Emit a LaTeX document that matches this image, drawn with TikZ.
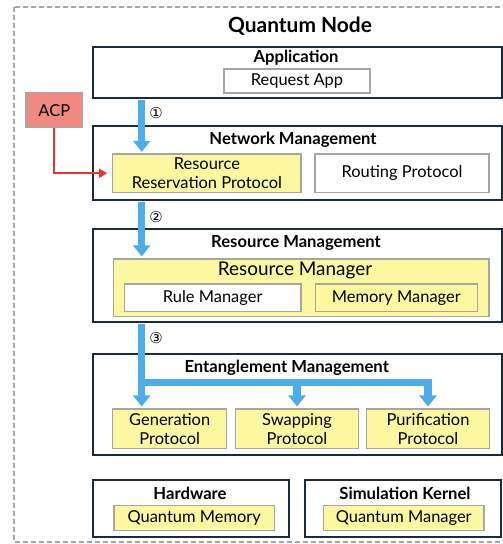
\documentclass[tikz,border=0pt]{standalone}
\usepackage{fontspec}
\setmainfont{Lato}
\newfontfamily\circfont{DejaVu Sans}
\usetikzlibrary{arrows.meta}
\definecolor{layerline}{HTML}{1C2B39}
\definecolor{modline}{HTML}{A6A6A6}
\definecolor{modyellow}{HTML}{FBF8A0}
\definecolor{acpred}{HTML}{F08A80}
\definecolor{flowblue}{HTML}{4DADE8}
\definecolor{acparrow}{HTML}{E8352A}
\tikzset{
  layer/.style={draw=layerline, line width=2bp, fill=white, inner sep=0pt},
  module/.style={draw=modline, line width=1.2bp, fill=white, inner sep=0pt, align=center,
    font=\fontsize{16.5}{19}\selectfont},
  yellowmod/.style={module, fill=modyellow},
  layertitle/.style={font=\bfseries\fontsize{16.7}{19}\selectfont},
  flow/.style={draw=flowblue, line width=7.5bp, -{Triangle[width=17bp,length=11bp]}},
  stepnum/.style={font=\circfont\fontsize{15}{15}\selectfont}
}
\begin{document}
\begin{tikzpicture}[x=1bp,y=-1bp]
  \useasboundingbox (0,0) rectangle (503,544);
  \draw[modline, line width=2bp, dash pattern=on 5bp off 3bp] (14,6.7) rectangle (530,541.7);
  \node[font=\bfseries\fontsize{21}{24}\selectfont] (qnode) at (300,26) {Quantum Node};

  % layers
  \node[layer, minimum width=409bp, minimum height=51bp] (app) at (297.2,72.2) {};
  \node[layer, minimum width=409bp, minimum height=74bp] (netmgmt) at (297.2,163) {};
  \node[layer, minimum width=409bp, minimum height=92.7bp] (resmgmt) at (297.2,275.3) {};
  \node[layer, minimum width=409bp, minimum height=101bp] (entmgmt) at (297.2,404.5) {};
  \node[layer, minimum width=196.3bp, minimum height=56.7bp] (hardware) at (190.8,508.3) {};
  \node[layer, minimum width=196bp, minimum height=56.7bp] (simkernel) at (403,508.3) {};

  \node[layertitle] (apptitle) at (296,58) {Application};
  \node[layertitle] (nettitle) at (293,140) {Network Management};
  \node[layertitle] (restitle) at (296,242.7) {Resource Management};
  \node[layertitle] (enttitle) at (286.7,367.7) {Entanglement Management};
  \node[layertitle] (hwtitle) at (190,493.3) {Hardware};
  \node[layertitle] (simtitle) at (405,493.3) {Simulation Kernel};

  % modules
  \node[module, minimum width=146bp, minimum height=24bp] (reqapp) at (297,81) {Request App};
  \node[module, fill=acpred, minimum width=56.7bp, minimum height=35bp] (acp) at (54.3,110.2) {ACP};
  \node[yellowmod, minimum width=188.3bp, minimum height=38.7bp] (rrp) at (206.9,173.3) {Resource\\Reservation Protocol};
  \node[module, minimum width=174bp, minimum height=38.7bp] (routing) at (402,173.3) {Routing Protocol};
  \node[yellowmod, minimum width=375.7bp, minimum height=57.7bp] (resmgr) at (301.2,287.8) {};
  \node[font=\fontsize{19}{22}\selectfont] (resmgrtitle) at (295,270) {Resource Manager};
  \node[module, minimum width=176.7bp, minimum height=27.7bp] (rulemgr) at (212.7,297.8) {Rule Manager};
  \node[yellowmod, minimum width=162bp, minimum height=27.7bp] (memmgr) at (396.3,297.8) {Memory Manager};
  \node[yellowmod, minimum width=114bp, minimum height=39.3bp] (gen) at (169.7,428.7) {Generation\\Protocol};
  \node[yellowmod, minimum width=122.6bp, minimum height=39.3bp] (swap) at (297,428.7) {Swapping\\Protocol};
  \node[yellowmod, minimum width=122.6bp, minimum height=39.3bp] (purif) at (428,428.7) {Purification\\Protocol};
  \node[yellowmod, minimum width=160.3bp, minimum height=25bp] (qmem) at (194.2,518.2) {Quantum Memory};
  \node[yellowmod, minimum width=160.7bp, minimum height=25bp] (qmgr) at (403.7,518.2) {Quantum Manager};

  % flows
  \coordinate (trunk) at (141.7,0);
  \coordinate (split) at (141.7,382.5);
  \draw[flow, shorten <=1bp, shorten >=1.5bp] (app.south -| trunk) -- (rrp.north -| trunk);
  \draw[flow, shorten <=1bp, shorten >=2bp] (netmgmt.south -| trunk) -- (resmgr.north -| trunk);
  \draw[flow, shorten <=1bp, shorten >=2bp] (resmgmt.south -| trunk) -- (gen.north -| trunk);
  \draw[flow, shorten >=2bp] (split) -| (purif.north);
  \draw[flow, shorten >=2bp] (split -| swap.north) -- (swap.north);
  \draw[acparrow, line width=2bp, -{Triangle[width=9bp,length=8bp]}, shorten >=5bp]
    (acp.south) |- (rrp.west);

  \node[stepnum] (one) at (156,112.7) {①};
  \node[stepnum] (two) at (156,217.3) {②};
  \node[stepnum] (three) at (156,338.3) {③};
\end{tikzpicture}
\end{document}
